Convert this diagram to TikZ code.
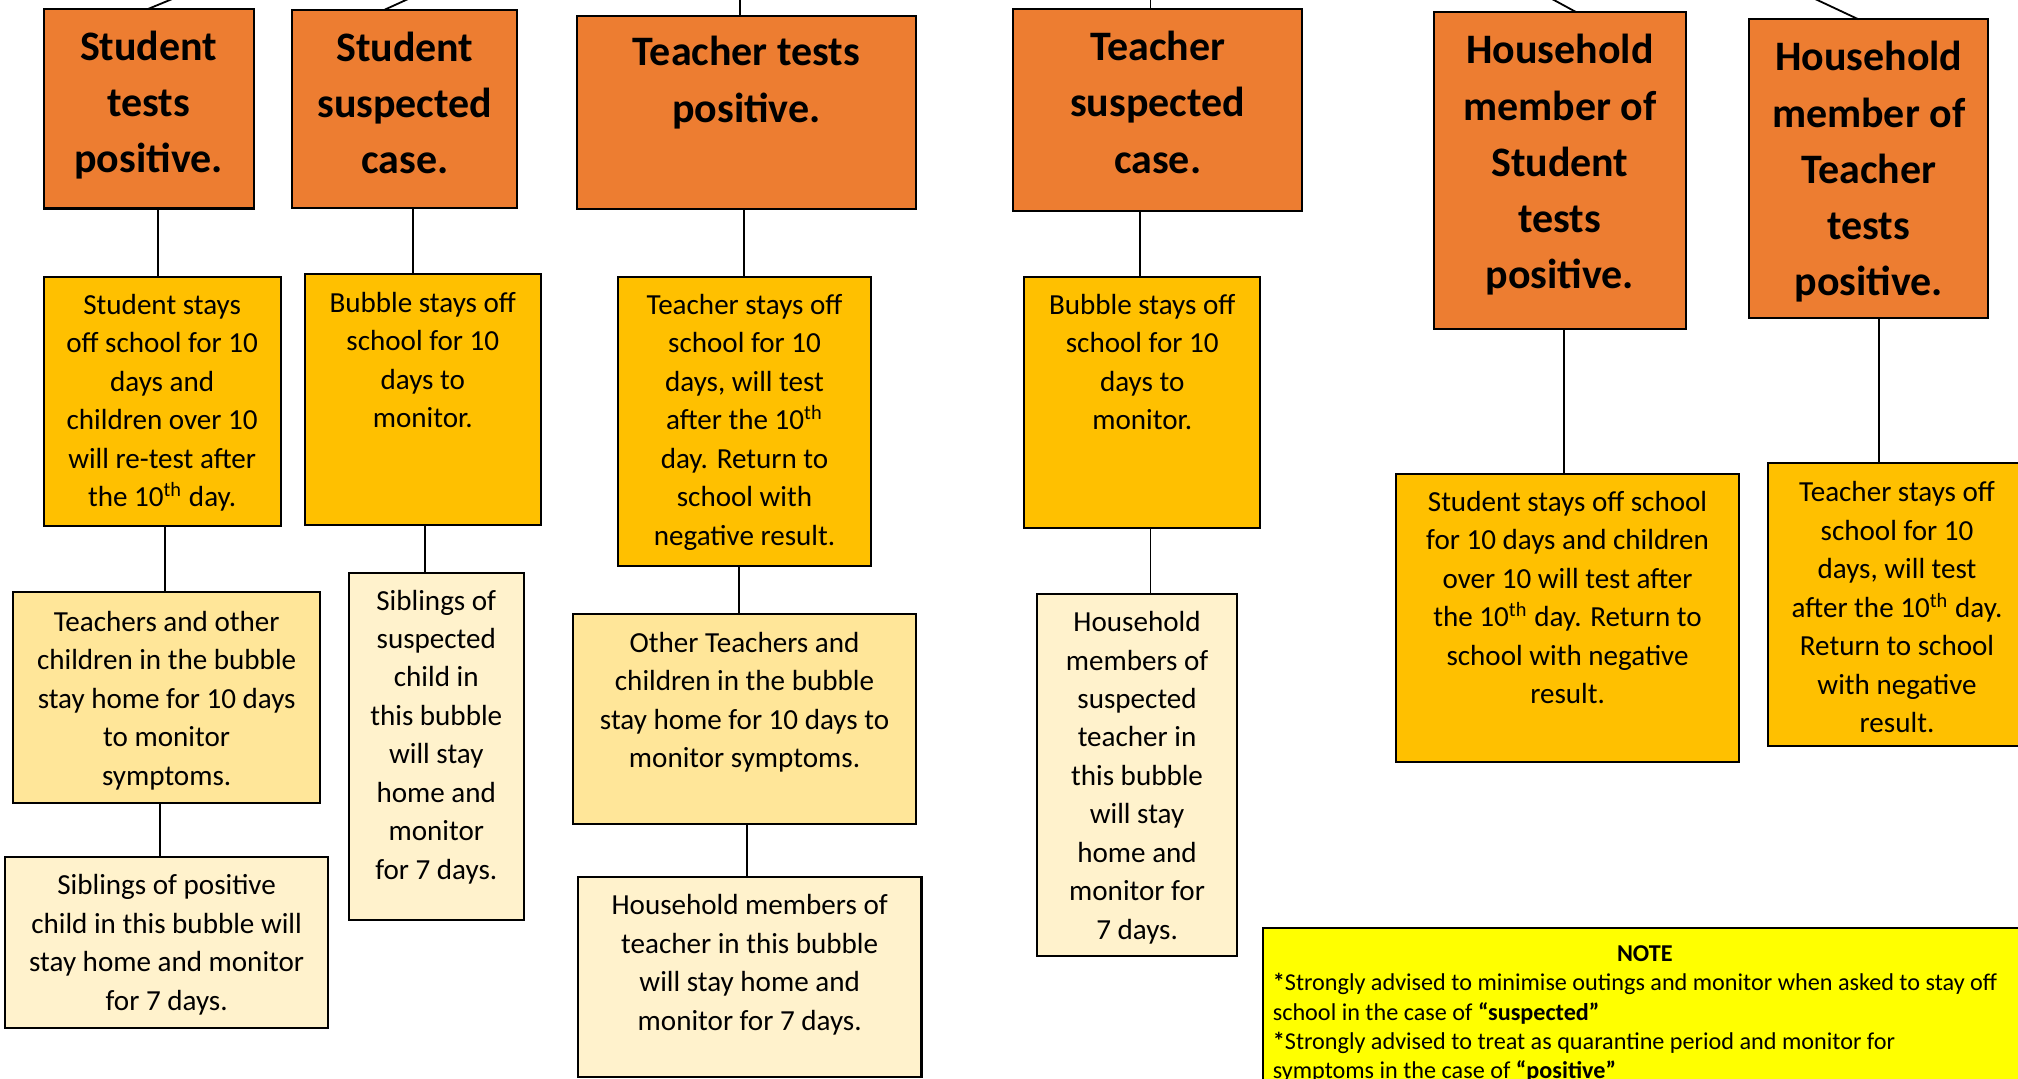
\documentclass[tikz,border=0pt]{standalone}
\usepackage{fontspec}
\setmainfont{Carlito}
\definecolor{orng}{HTML}{ED7D31}
\definecolor{gold}{HTML}{FFC000}
\definecolor{lgold}{HTML}{FFE699}
\definecolor{pale}{HTML}{FFF2CC}
\definecolor{notey}{HTML}{FFFF00}
\newcommand\bt[4]{\parbox[c][#2][t]{#1}{\centering\rule{0pt}{#3}#4\par}}
\newcommand\vlink[3]{\path ([xshift=#3]#1.south) coordinate (tmp);
  \draw[link] (tmp) -- (tmp |- #2.north);}
\tikzset{
  box/.style={draw=black, line width=0.8pt, inner sep=0pt, outer sep=0pt},
  obox/.style={box, fill=orng, font=\bfseries\fontsize{16.3pt}{21.85pt}\selectfont},
  smalltext/.style={font=\fontsize{11.3pt}{14.95pt}\selectfont},
  ybox/.style={box, fill=gold, smalltext},
  lbox/.style={box, fill=lgold, smalltext},
  pbox/.style={box, fill=pale, smalltext},
  notebox/.style={box, fill=notey, font=\fontsize{9.4pt}{11.4pt}\selectfont},
  link/.style={line width=0.7pt}
}
\begin{document}
\begin{tikzpicture}[x=0.5pt,y=-0.5pt]
\useasboundingbox (0,0) rectangle (1568,838);
\clip (0,0) rectangle (1568,838);

% top-level boxes
\node[obox] (o1) at (115.5,84.5) {\bt{81.5pt}{77.5pt}{20pt}{Student\\tests\\positive.}};
\node[obox] (o2) at (314.5,84.5) {\bt{87.5pt}{77pt}{20pt}{Student\\suspected\\case.}};
\node[obox] (o3) at (580,87.4) {\bt{132pt}{75.2pt}{19.5pt}{Teacher tests\\positive.}};
\node[obox] (o4) at (899.5,85.6) {\bt{112.5pt}{78.4pt}{20pt}{Teacher\\suspected\\case.}};
\node[obox] (o5) at (1212,132.8) {\bt{98pt}{123.2pt}{20pt}{Household\\member of\\Student\\tests\\positive.}};
\node[obox] (o6) at (1452,131) {\bt{93pt}{116pt}{20pt}{Household\\member of\\Teacher\\tests\\positive.}};

% second level
\node[ybox] (y1) at (126,312) {\bt{92pt}{97pt}{14.6pt}{Student stays\\off school for 10\\days and\\children over 10\\will re-test after\\the 10\textsuperscript{th} day.}};
\node[ybox] (y2) at (328.5,310.5) {\bt{91.5pt}{97.5pt}{14.8pt}{Bubble stays off\\school for 10\\days to\\monitor.}};
\node[ybox] (y3) at (578.5,327.5) {\bt{98.5pt}{112.5pt}{14.6pt}{Teacher stays off\\school for 10\\days, will test\\after the 10\textsuperscript{th}\\day. Return to\\school with\\negative result.}};
\node[ybox] (y4) at (887.5,312.5) {\bt{91.5pt}{97.5pt}{14.6pt}{Bubble stays off\\school for 10\\days to\\monitor.}};
\node[ybox] (y5) at (1218,480) {\bt{133pt}{112pt}{14.6pt}{Student stays off school\\for 10 days and children\\over 10 will test after\\the 10\textsuperscript{th} day. Return to\\school with negative\\result.}};
\node[ybox] (y6) at (1474,470) {\bt{100pt}{110pt}{15pt}{Teacher stays off\\school for 10\\days, will test\\after the 10\textsuperscript{th} day.\\Return to school\\with negative\\result.}};

% third level
\node[lbox] (l1) at (129.5,542) {\bt{119.5pt}{82pt}{15.2pt}{Teachers and other\\children in the bubble\\stay home for 10 days\\to monitor\\symptoms.}};
\node[pbox] (p2) at (339,580) {\bt{68pt}{135pt}{14.5pt}{Siblings of\\suspected\\child in\\this bubble\\will stay\\home and\\monitor\\for 7 days.}};
\node[lbox] (l3) at (578.5,558.5) {\bt{133.5pt}{81.5pt}{15pt}{Other Teachers and\\children in the bubble\\stay home for 10 days to\\monitor symptoms.}};
\node[pbox] (p4) at (883.5,602) {\bt{77.5pt}{140.5pt}{14.6pt}{Household\\members of\\suspected\\teacher in\\this bubble\\will stay\\home and\\monitor for\\7 days.}};

% fourth level
\node[pbox] (p1) at (129.5,732.5) {\bt{125.5pt}{66.5pt}{14.6pt}{Siblings of positive\\child in this bubble will\\stay home and monitor\\for 7 days.}};
\node[pbox] (p3) at (582.5,759) {\bt{133.5pt}{77.5pt}{14.6pt}{Household members of\\teacher in this bubble\\will stay home and\\monitor for 7 days.}};

% note
\node[notebox, anchor=north west] (note) at (981,721) {\parbox[c][70pt][t]{297pt}{%
  {\centering\rule{0pt}{13pt}\textbf{NOTE}\par}
  \raggedright\leftskip=4pt
  \textbf{*}Strongly advised to minimise outings and monitor when asked to stay off\\
  school in the case of \textbf{“suspected”}\\
  \textbf{*}Strongly advised to treat as quarantine period and monitor for\\
  symptoms in the case of \textbf{“positive”}\par}};

% free ends of the lines leaving the top edge
\coordinate (t1) at (149,-7);
\coordinate (t2) at (333,-8);
\coordinate (t3) at (575,-10);
\coordinate (t4) at (894,-10);
\coordinate (t5) at (1189,-10);
\coordinate (t6) at (1380,-15);
\draw[link] ([xshift=-0.25pt]o1.north) -- (t1);
\draw[link] ([xshift=-7.75pt]o2.north) -- (t2);
\draw[link] ([xshift=-2.5pt]o3.north) -- (t3);
\draw[link] ([xshift=-2.75pt]o4.north) -- (t4);
\draw[link] ([xshift=6.5pt]o5.north) -- (t5);
\draw[link] ([xshift=-4pt]o6.north) -- (t6);

% vertical connectors
\vlink{o1}{y1}{3.5pt}
\vlink{y1}{l1}{1pt}
\vlink{l1}{p1}{-2.65pt}
\vlink{o2}{y2}{3.25pt}
\vlink{y2}{p2}{0.85pt}
\vlink{o3}{y3}{-1pt}
\vlink{y3}{l3}{-2.25pt}
\vlink{l3}{p3}{0.95pt}
\vlink{o4}{y4}{-6.75pt}
\vlink{y4}{p4}{3.2pt}
\vlink{o5}{y5}{1.75pt}
\vlink{o6}{y6}{4pt}
\end{tikzpicture}
\end{document}
